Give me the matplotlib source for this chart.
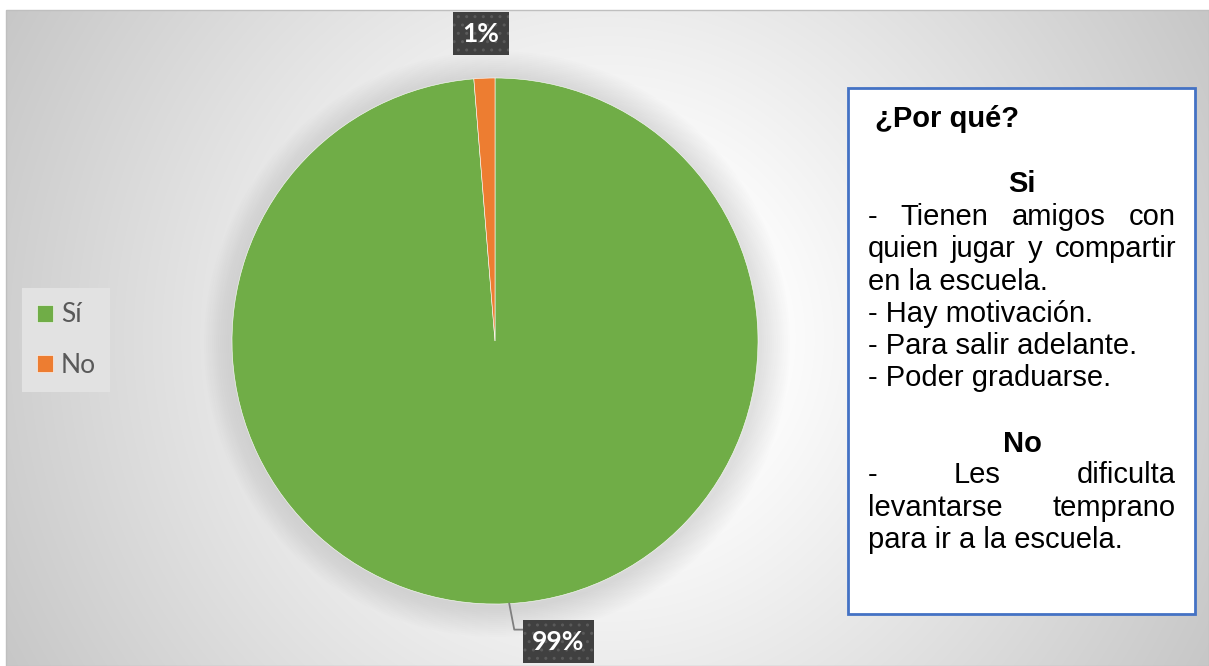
import matplotlib
matplotlib.use("Agg")
import matplotlib.pyplot as plt
import numpy as np
from matplotlib.patches import Rectangle, Circle

# datos de la encuesta
categorias = ["Sí", "No"]
valores = [77, 1]
colores = ["#70AD47", "#ED7D31"]

titulo_caja = "¿Por qué?"
razones_si = [
    ["-", "Tienen", "amigos", "con"],
    ["quien", "jugar", "y", "compartir"],
    "en la escuela.",
    "- Hay motivación.",
    "- Para salir adelante.",
    "- Poder graduarse.",
]
razones_no = [
    ["-", "Les", "dificulta"],
    ["levantarse", "temprano"],
    "para ir a la escuela.",
]

W, H = 1209, 666
fig = plt.figure(figsize=(W / 100, H / 100), dpi=100)
ax = fig.add_axes([0, 0, 1, 1])
ax.set_xlim(0, W)
ax.set_ylim(0, H)
ax.axis("off")


def py(y):
    # coordenadas en pixeles (desde arriba) -> coordenadas del eje
    return H - y


# fondo con degradado radial
xx, yy = np.meshgrid(np.arange(6, W), np.arange(10, H))
r = np.hypot(xx - 607, yy - 338)
gris = np.clip(255 - 0.105 * np.maximum(r - 150, 0), 0, 255) / 255.0
img = np.dstack([gris, gris, gris])
ax.imshow(img, extent=(6, W, py(H), py(10)), origin="upper", zorder=0, aspect="auto")
ax.add_patch(Rectangle((6, py(H)), W - 6, H - 10, fill=False, edgecolor="#bfbfbf", lw=1, zorder=1))

# pastel
cx, cy, R = 495, py(341), 263
for k in range(1, 16):
    ax.add_patch(Circle((cx + 2, cy - 3), R + 2 * k, color="#808080", alpha=0.012, lw=0, zorder=1))

wedges, _ = ax.pie(valores, colors=colores, startangle=90, counterclock=False,
                   center=(cx, cy), radius=R, frame=True,
                   wedgeprops=dict(edgecolor="white", linewidth=0.4, zorder=2))
for w in wedges:
    w.set_zorder(2)
ax.set_xlim(0, W)
ax.set_ylim(0, H)
ax.set_aspect("equal")
ax.axis("off")

total = sum(valores)
fracs = [v / total for v in valores]
cum = np.cumsum([0] + fracs)
etiqueta_kw = dict(color="white", fontsize=19, fontweight="bold", family="Lato",
                   ha="center", va="center", zorder=6,
                   bbox=dict(boxstyle="square,pad=0.36", facecolor="#404040",
                             edgecolor="#5a5a5a", linewidth=0, hatch=".."))

# etiqueta "No"
ang_no = np.deg2rad(90 - 360 * (cum[1] + cum[2]) / 2)
ax.text(cx + 1.17 * R * np.cos(ang_no) - 2, cy + 1.17 * R * np.sin(ang_no),
        f"{round(fracs[1] * 100)}%", **etiqueta_kw)

# etiqueta "Sí" con línea guía
ang_si = np.deg2rad(90 - 360 * (cum[0] + cum[1]) / 2 + 0.8)
ex, ey = cx + R * np.cos(ang_si), cy + R * np.sin(ang_si)
lx, ly = ex + 49, ey - 38
ax.plot([ex, ex + 5, lx - 33], [ey, ey - 26, ey - 26], color="#7f7f7f", lw=1.3, zorder=5)
ax.text(lx, ly, f"{round(fracs[0] * 100)}%", **etiqueta_kw)

# leyenda
leg = ax.legend(wedges, categorias, loc="center left", bbox_to_anchor=(22 / W, 1 - 340 / H),
                borderaxespad=0, frameon=True, fancybox=False, framealpha=1,
                facecolor="#e2e2e2", edgecolor="none", handlelength=0.62, handleheight=0.62,
                handletextpad=0.3, labelspacing=0.95, borderpad=0.55,
                prop=dict(family="Lato", size=19))
for t in leg.get_texts():
    t.set_color("#595959")

# caja de texto
ax.add_patch(Rectangle((848, py(614)), 347, 526, facecolor="white",
                       edgecolor="#4472C4", lw=2, zorder=3))
caja_kw = dict(family="Liberation Sans", fontsize=21, color="black", va="baseline", zorder=4)
x0, x1 = 868, 1176
renderer = fig.canvas.get_renderer()


def linea(y, contenido):
    if isinstance(contenido, str):
        ax.text(x0, py(y), contenido, ha="left", **caja_kw)
        return
    textos = [ax.text(0, py(y), p, ha="left", **caja_kw) for p in contenido]
    anchos = [t.get_window_extent(renderer).width for t in textos]
    hueco = (x1 - x0 - sum(anchos)) / (len(textos) - 1)
    x = x0
    for t, a in zip(textos, anchos):
        t.set_x(x)
        x += a + hueco


ax.text(875, py(127), titulo_caja, ha="left", fontweight="bold", **caja_kw)
ax.text(1022, py(192), "Si", ha="center", fontweight="bold", **caja_kw)
for i, c in enumerate(razones_si):
    linea(225 + i * 32.3, c)
ax.text(1022, py(452), "No", ha="center", fontweight="bold", **caja_kw)
for i, c in enumerate(razones_no):
    linea(483 + i * 32.5, c)

fig.savefig("out.png", dpi=100)
